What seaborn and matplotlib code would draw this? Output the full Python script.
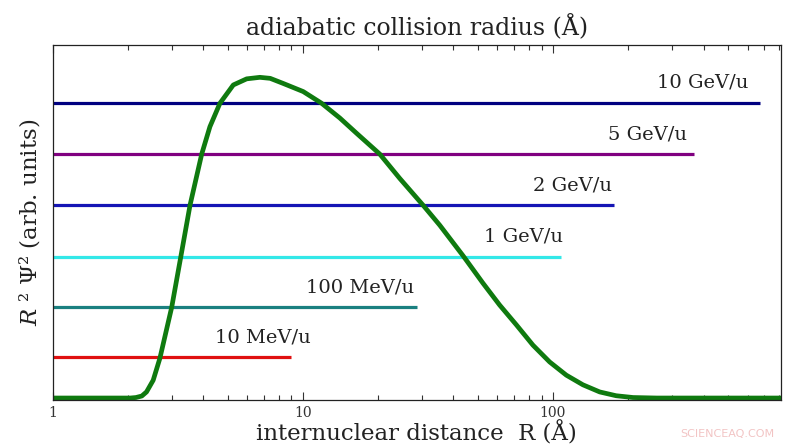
import numpy as np
import pandas as pd
import matplotlib
matplotlib.use("Agg")
import matplotlib.pyplot as plt
import seaborn as sns

# ---- data ----
curve_R = [1.0, 1.5, 2.04, 2.15, 2.27, 2.37, 2.52, 2.68, 2.99, 3.25, 3.54, 3.94, 4.25, 4.66,
           5.27, 5.96, 6.73, 7.4, 8.34, 10.03, 11.88, 14.05, 16.39, 20.3, 24.41, 30.17,
           35.27, 43.7, 52.5, 61.2, 71.4, 83.2, 97.0, 113.1, 131.8, 153.8, 179.0, 209.0,
           260.0, 350.0, 500.0, 815.0]
curve_P = [0.0, 0.0, 0.0, 0.01, 0.04, 0.12, 0.35, 0.78, 1.79, 2.78, 3.80, 4.80, 5.34, 5.80,
           6.16, 6.28, 6.31, 6.29, 6.19, 6.03, 5.80, 5.51, 5.21, 4.80, 4.32, 3.80,
           3.40, 2.80, 2.26, 1.83, 1.44, 1.04, 0.71, 0.45, 0.26, 0.12, 0.045, 0.01,
           0.0, 0.0, 0.0, 0.0]

energies = ["10 MeV/u", "100 MeV/u", "1 GeV/u", "2 GeV/u", "5 GeV/u", "10 GeV/u"]
radius_end = [9.0, 28.5, 108.0, 175.0, 365.0, 675.0]   # adiabatic collision radius (Å)
levels = [0.81, 1.79, 2.78, 3.80, 4.80, 5.81]
line_colors = ["#e01010", "#1a8080", "#33e8e8", "#1515b5", "#800080", "#000080"]

xlim = (1.0, 815.0)
ylim = (-0.04, 6.95)

sns.set_style("white")
plt.rcParams["font.family"] = ["DejaVu Serif"]
plt.rcParams["mathtext.fontset"] = "dejavuserif"

fig = plt.figure(figsize=(8.0, 4.48), dpi=100)
ax = fig.add_axes([0.066, 0.107, 0.910, 0.793])

# horizontal energy lines
for name, rend, lev, col in zip(energies, radius_end, levels, line_colors):
    df = pd.DataFrame({"R": [xlim[0], rend], "y": [lev, lev]})
    sns.lineplot(data=df, x="R", y="y", ax=ax, color=col, lw=2.3,
                 estimator=None, sort=False, solid_capstyle="butt")

# probability density curve
dfc = pd.DataFrame({"R": curve_R, "P": curve_P})
sns.lineplot(data=dfc, x="R", y="P", ax=ax, color="#0f7a0f", lw=3.4,
             estimator=None, sort=False, solid_joinstyle="round")

# labels above line ends
label_shift = [1.20, 0.973, 1.018, 0.982, 0.938, 0.896]
for name, rend, lev, f in zip(energies, radius_end, levels, label_shift):
    ax.text(rend * f, lev + 0.39, name, ha="right", va="center",
            fontsize=14, color="#222222")

ax.set_xscale("log")
ax.set_xlim(*xlim)
ax.set_ylim(*ylim)
ax.set_yticks([])
ax.set_xticks([1, 10, 100])
ax.set_xticklabels(["1", "10", "100"])
ax.tick_params(axis="x", which="both", direction="in", top=True, bottom=True,
               labeltop=False, labelsize=10, pad=4, colors="#333333")
ax.tick_params(axis="x", which="major", length=6, width=0.8)
ax.tick_params(axis="x", which="minor", length=3.5, width=0.8)
for s in ax.spines.values():
    s.set_visible(True)
    s.set_color("#222222")
    s.set_linewidth(0.9)

ax.set_xlabel("internuclear distance  R (Å)", fontsize=16.5, labelpad=1, color="#222222")
ax.set_ylabel(r"$R$ ² Ψ² (arb. units)", fontsize=16.5, labelpad=8, color="#222222")
ax.set_title("adiabatic collision radius (Å)", fontsize=17, pad=7, color="#222222")

fig.text(0.968, 0.02, "SCIENCEAQ.COM", ha="right", va="bottom",
         fontsize=8, color="#f2c4c4", family="DejaVu Sans")

fig.savefig("out.png", dpi=100)
